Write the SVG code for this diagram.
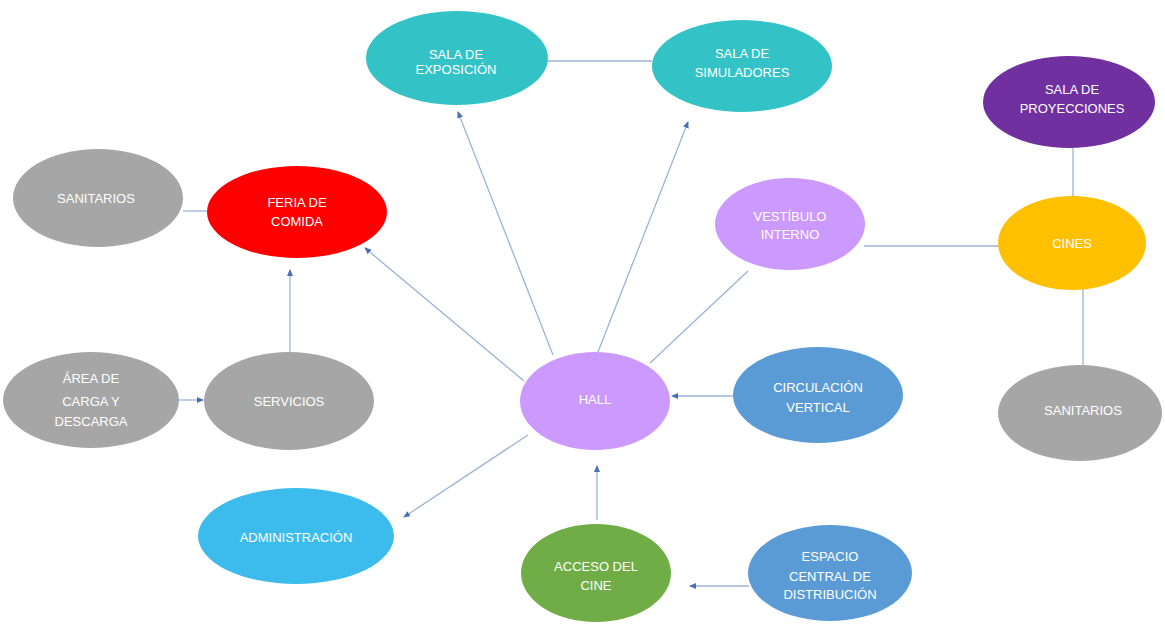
<svg xmlns="http://www.w3.org/2000/svg" width="1165" height="624" viewBox="0 0 1165 624">
<defs>
<style>
.c{stroke:#9bb3d6;stroke-width:1.3;fill:none}
.t{font-family:"Liberation Sans",Arial,sans-serif;font-size:13px;fill:#ffffff;text-anchor:middle}
.teal{fill:#33c3c6}.gray{fill:#a6a6a6}.red{fill:#ff0000}.lav{fill:#cc99ff}.blue{fill:#5b9bd5}.sky{fill:#3cbcec}.green{fill:#70ad47}.purple{fill:#7030a0}.gold{fill:#ffc000}
</style>
<marker id="ah" markerWidth="7" markerHeight="6" refX="6" refY="3" orient="auto" markerUnits="userSpaceOnUse">
<path d="M0,0 L7,3 L0,6 Z" fill="#4a6fb5"/>
</marker>
</defs>
<rect width="1165" height="624" fill="#ffffff"/>
<g id="connectors">
<line class="c" x1="548" y1="61" x2="652" y2="61"/>
<line class="c" x1="553" y1="355" x2="458" y2="112" marker-end="url(#ah)"/>
<line class="c" x1="598" y1="352" x2="688" y2="122" marker-end="url(#ah)"/>
<line class="c" x1="524" y1="381" x2="365" y2="248" marker-end="url(#ah)"/>
<line class="c" x1="183" y1="211" x2="207" y2="211"/>
<line class="c" x1="290" y1="352" x2="290" y2="270" marker-end="url(#ah)"/>
<line class="c" x1="178" y1="400" x2="203" y2="400" marker-end="url(#ah)"/>
<line class="c" x1="528" y1="435" x2="404" y2="517" marker-end="url(#ah)"/>
<line class="c" x1="734" y1="396" x2="672" y2="396" marker-end="url(#ah)"/>
<line class="c" x1="597" y1="520" x2="597" y2="466" marker-end="url(#ah)"/>
<line class="c" x1="749" y1="586" x2="690" y2="586" marker-end="url(#ah)"/>
<line class="c" x1="748" y1="271" x2="650" y2="363"/>
<line class="c" x1="864" y1="246" x2="999" y2="246"/>
<line class="c" x1="1073" y1="147" x2="1073" y2="198"/>
<line class="c" x1="1083" y1="289" x2="1083" y2="366"/>
</g>
<g id="sala-exposicion"><ellipse class="teal" cx="457" cy="58" rx="91" ry="47"/><text class="t" x="456" y="59">SALA DE</text><text class="t" x="456" y="74">EXPOSICIÓN</text></g>
<g id="sala-simuladores"><ellipse class="teal" cx="742" cy="66" rx="90" ry="46"/><text class="t" x="742" y="58">SALA DE</text><text class="t" x="742" y="77">SIMULADORES</text></g>
<g id="sala-proyecciones"><ellipse class="purple" cx="1069" cy="102" rx="86" ry="46"/><text class="t" x="1072" y="94">SALA DE</text><text class="t" x="1072" y="113">PROYECCIONES</text></g>
<g id="sanitarios-1"><ellipse class="gray" cx="98" cy="198" rx="85" ry="49"/><text class="t" x="96" y="203">SANITARIOS</text></g>
<g id="feria-comida"><ellipse class="red" cx="297" cy="212" rx="90" ry="46"/><text class="t" x="297" y="207">FERIA DE</text><text class="t" x="297" y="226">COMIDA</text></g>
<g id="vestibulo"><ellipse class="lav" cx="790" cy="224" rx="75" ry="46"/><text class="t" x="790" y="221">VESTÍBULO</text><text class="t" x="790" y="239">INTERNO</text></g>
<g id="cines"><ellipse class="gold" cx="1072" cy="243" rx="74" ry="47"/><text class="t" x="1072" y="248">CINES</text></g>
<g id="area-carga"><ellipse class="gray" cx="91" cy="400" rx="88" ry="48"/><text class="t" x="91" y="383">ÁREA DE</text><text class="t" x="91" y="406">CARGA Y</text><text class="t" x="91" y="426">DESCARGA</text></g>
<g id="servicios"><ellipse class="gray" cx="289" cy="401" rx="85" ry="49"/><text class="t" x="289" y="406">SERVICIOS</text></g>
<g id="hall"><ellipse class="lav" cx="595" cy="401" rx="75" ry="49"/><text class="t" x="595" y="404">HALL</text></g>
<g id="circulacion"><ellipse class="blue" cx="818" cy="395" rx="85" ry="48"/><text class="t" x="818" y="392">CIRCULACIÓN</text><text class="t" x="818" y="412">VERTICAL</text></g>
<g id="sanitarios-2"><ellipse class="gray" cx="1080" cy="413" rx="82" ry="48"/><text class="t" x="1083" y="415">SANITARIOS</text></g>
<g id="administracion"><ellipse class="sky" cx="296" cy="536" rx="98" ry="48"/><text class="t" x="296" y="542">ADMINISTRACIÓN</text></g>
<g id="acceso-cine"><ellipse class="green" cx="596" cy="573" rx="75" ry="49"/><text class="t" x="596" y="571">ACCESO DEL</text><text class="t" x="596" y="590">CINE</text></g>
<g id="espacio-central"><ellipse class="blue" cx="830" cy="573" rx="82" ry="48"/><text class="t" x="830" y="561">ESPACIO</text><text class="t" x="830" y="581">CENTRAL DE</text><text class="t" x="830" y="599">DISTRIBUCIÓN</text></g>
</svg>
